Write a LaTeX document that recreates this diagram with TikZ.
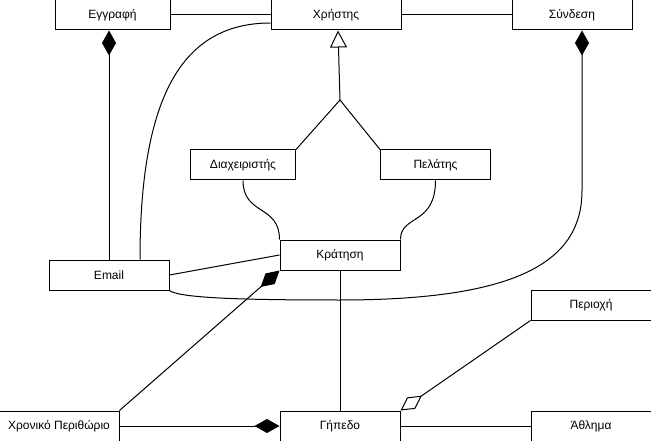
\documentclass[tikz,border=0pt]{standalone}
\usepackage{fontspec}
\setmainfont{Liberation Sans}
\usepackage{tikz}
\usetikzlibrary{positioning,calc,arrows.meta}

\begin{document}
\begin{tikzpicture}[
    x=1pt, y=-1pt,
    cls/.style={rectangle, draw=black, line width=1pt, fill=white, minimum width=120pt, minimum height=30pt, inner sep=0pt, text centered, font=\fontsize{12}{14}\selectfont},
    link/.style={line width=1pt, black},
    comp/.style={{Diamond[length=25pt,width=14pt]}-, line width=1pt, black},
    aggr/.style={{Diamond[open,length=26pt,width=14pt]}-, line width=1pt, black},
    gen/.style={{Triangle[open,length=17pt,width=17pt]}-, line width=1pt, black}
]
    \useasboundingbox (0,0) rectangle (651,441);

    \node[cls, minimum width=115pt] (egg) at (112.5,15) {Εγγραφή};
    \node[cls, minimum width=130pt, right=100pt of egg] (user) {Χρήστης};
    \node[cls, right=110pt of user] (login) {Σύνδεση};

    \node[cls, minimum width=105pt] (admin) at (243,165) {Διαχειριστής};
    \node[cls, minimum width=110pt] (client) at (435.5,165) {Πελάτης};

    \node[cls] (booking) at (340,255) {Κράτηση};
    \node[cls, left=110pt of booking, yshift=-20pt] (email) {Email};

    \node[cls, below=140pt of booking] (court) {Γήπεδο};
    \node[cls, left=160pt of court] (slot) {Χρονικό Περιθώριο};
    \node[cls, right=130pt of court] (sport) {Άθλημα};
    \node[cls, above=90pt of sport] (area) {Περιοχή};

    \coordinate (fork) at (340,100);
    \coordinate (dip) at (340,300);

    \draw[link] (egg.east) -- (user.west);
    \draw[link] (user.east) -- (login.west);

    \draw[gen] ($(user.south)+(2,0)$) -- (fork);
    \draw[link] (fork) -- (admin.north east);
    \draw[link] (fork) -- (client.north west);

    \draw[comp] (email.north |- egg.south) -- (email.north);
    \draw[link] ($(user.west)+(0,8)$) .. controls +(-90,0) and +(0,-160) .. ($(email.north)+(31,0)$);
    \draw[comp] ($(login.south)+(10,0)$) -- ++(0,160) .. controls +(0,70) and +(180,0) .. (dip) .. controls +(-90,0) and +(10,8) .. (email.south east);

    \draw[link] (admin.south) .. controls +(0,35) and +(0,-35) .. (booking.north west);
    \draw[link] (client.south) .. controls +(0,45) and +(0,-25) .. (booking.north east);
    \draw[link] (email.east) -- (booking.west);

    \draw[comp] (booking.south west) -- (slot.north east);
    \draw[link] (booking.south) -- (court.north);
    \draw[comp] (court.west) -- (slot.east);
    \draw[aggr] (court.north east) -- (area.south west);
    \draw[link] (court.east) -- (sport.west);
\end{tikzpicture}
\end{document}
